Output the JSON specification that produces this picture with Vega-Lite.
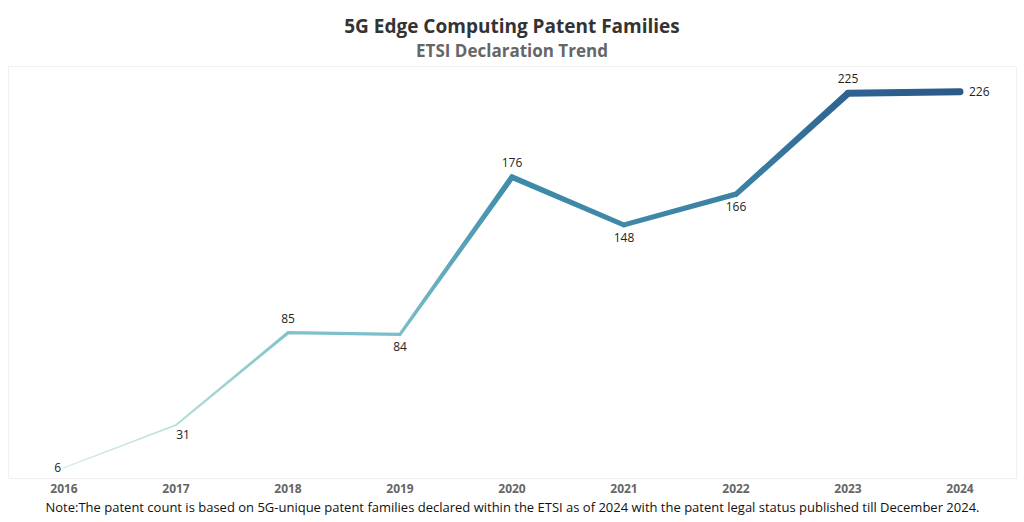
{
  "$schema": "https://vega.github.io/schema/vega-lite/v6.json",
  "width": 1024,
  "height": 522,
  "autosize": {"type": "fit", "contains": "padding"},
  "padding": {"left": 8, "right": 8, "top": 18, "bottom": 8},
  "background": "white",
  "config": {
    "view": {"stroke": "#f0f0f0", "strokeWidth": 1},
    "font": "Open Sans"
  },
  "title": {
    "text": "5G Edge Computing Patent Families",
    "subtitle": "ETSI Declaration Trend",
    "anchor": "middle",
    "font": "Open Sans",
    "fontSize": 19,
    "fontWeight": "bold",
    "color": "#333333",
    "subtitleFont": "Open Sans",
    "subtitleFontSize": 17,
    "subtitleFontWeight": "bold",
    "subtitleColor": "#666666",
    "subtitlePadding": 7,
    "offset": 6
  },
  "data": {
    "values": [
      {"year": "2016", "count": 6},
      {"year": "2017", "count": 31},
      {"year": "2018", "count": 85},
      {"year": "2019", "count": 84},
      {"year": "2020", "count": 176},
      {"year": "2021", "count": 148},
      {"year": "2022", "count": 166},
      {"year": "2023", "count": 225},
      {"year": "2024", "count": 226}
    ]
  },
  "encoding": {
    "x": {
      "field": "year",
      "type": "ordinal",
      "scale": {"type": "band", "paddingInner": 0, "paddingOuter": 0},
      "axis": {
        "title": "Note:The patent count is based on 5G-unique patent families declared within the ETSI as of 2024 with the patent legal status published till December 2024.",
        "titleFont": "Open Sans",
        "titleFontSize": 13,
        "titleFontWeight": "normal",
        "titleColor": "#111111",
        "titlePadding": 7,
        "labelAngle": 0,
        "labelFont": "Open Sans",
        "labelFontSize": 12,
        "labelFontWeight": "bold",
        "labelColor": "#666666",
        "labelPadding": 5,
        "domain": false,
        "ticks": false,
        "grid": false
      }
    },
    "y": {
      "field": "count",
      "type": "quantitative",
      "scale": {"domain": [0, 241], "nice": false, "zero": true},
      "axis": null
    }
  },
  "layer": [
    {
      "mark": {
        "type": "trail",
        "color": {
          "gradient": "linear",
          "x1": 0, "y1": 0, "x2": 1, "y2": 0,
          "stops": [
            {"offset": 0.0, "color": "#cdeae2"},
            {"offset": 0.125, "color": "#b2ded8"},
            {"offset": 0.25, "color": "#80c2ca"},
            {"offset": 0.375, "color": "#7abec8"},
            {"offset": 0.5, "color": "#3d8aa9"},
            {"offset": 0.625, "color": "#4088a8"},
            {"offset": 0.75, "color": "#3a82a4"},
            {"offset": 0.875, "color": "#2f6190"},
            {"offset": 1.0, "color": "#2c5a87"}
          ]
        }
      },
      "encoding": {
        "size": {
          "field": "count",
          "type": "quantitative",
          "scale": {"domain": [0, 226], "range": [1, 7]},
          "legend": null
        }
      }
    },
    {
      "transform": [{"filter": "datum.year == '2018' || datum.year == '2020' || datum.year == '2023'"}],
      "mark": {"type": "text", "dy": -14, "fontSize": 12, "color": "#222222", "font": "Open Sans"},
      "encoding": {"text": {"field": "count", "type": "quantitative"}}
    },
    {
      "transform": [{"filter": "datum.year == '2019' || datum.year == '2021' || datum.year == '2022'"}],
      "mark": {"type": "text", "dy": 13, "fontSize": 12, "color": "#222222", "font": "Open Sans"},
      "encoding": {"text": {"field": "count", "type": "quantitative"}}
    },
    {
      "transform": [{"filter": "datum.year == '2017'"}],
      "mark": {"type": "text", "dy": 10, "dx": 7, "fontSize": 12, "color": "#222222", "font": "Open Sans"},
      "encoding": {"text": {"field": "count", "type": "quantitative"}}
    },
    {
      "transform": [{"filter": "datum.year == '2016'"}],
      "mark": {"type": "text", "dx": -3, "align": "right", "fontSize": 12, "color": "#222222", "font": "Open Sans"},
      "encoding": {"text": {"field": "count", "type": "quantitative"}}
    },
    {
      "transform": [{"filter": "datum.year == '2024'"}],
      "mark": {"type": "text", "dx": 9, "align": "left", "fontSize": 12, "color": "#222222", "font": "Open Sans"},
      "encoding": {"text": {"field": "count", "type": "quantitative"}}
    }
  ]
}
